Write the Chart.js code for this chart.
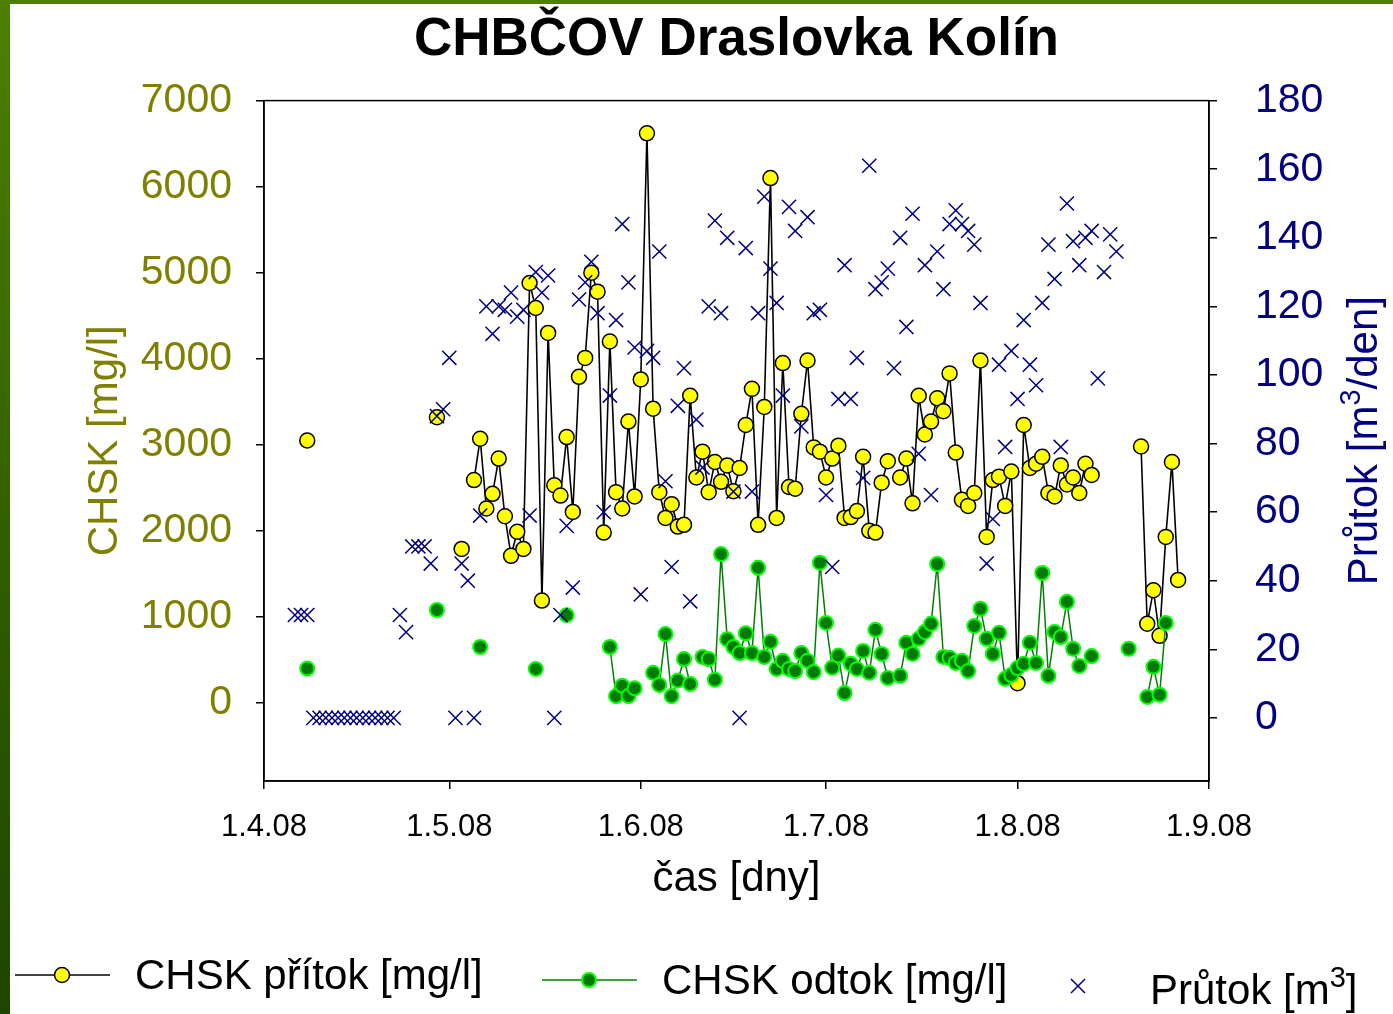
<!DOCTYPE html>
<html>
<head>
<meta charset="utf-8">
<title>CHBČOV Draslovka Kolín</title>
<script src="https://cdn.jsdelivr.net/npm/chart.js@4.4.1/dist/chart.umd.min.js"></script>
<style>
    html, body { margin: 0; padding: 0; background: #fff; }
    #wrap { position: relative; width: 1393px; height: 1014px; overflow: hidden; }
    #graf { position: absolute; left: 0; top: 0; }
    .pruh-levy { position: absolute; left: 0; top: 0; width: 10px; height: 1014px;
        background: linear-gradient(#4f7f00, #2f5a00 60%, #1f4500); }
    .pruh-horni { position: absolute; left: 0; top: 0; width: 1393px; height: 4px; background: #4f7f00; }
</style>
</head>
<body>
<div id="wrap">
    <canvas id="graf" width="1393" height="1014"></canvas>
    <div class="pruh-levy"></div>
    <div class="pruh-horni"></div>
</div>
<script>
// dny od 1.4.08 (0 = 1.4.08)
const osaDny = [0, 30, 61, 91, 122, 153];
const osaPopisky = ['1.4.08', '1.5.08', '1.6.08', '1.7.08', '1.8.08', '1.9.08'];
const chskTicks = [0, 1000, 2000, 3000, 4000, 5000, 6000, 7000];
const prutokTicks = [0, 20, 40, 60, 80, 100, 120, 140, 160, 180];

// CHSK přítok [mg/l]
const pritokDny = [7, 28, 32,
    34, 35, 36, 37, 38, 39, 40, 41, 42, 43, 44, 45, 46, 47, 48, 49, 50, 51, 52, 53,
    54, 55, 56, 57, 58, 59, 60, 61, 62, 63, 64, 65, 66, 67, 68, 69, 70, 71, 72, 73,
    74, 75, 76, 77, 78, 79, 80, 81, 82, 83, 84, 85, 86, 87, 88, 89, 90, 91, 92, 93,
    94, 95, 96, 97, 98, 99, 100, 101,
    103, 104, 105, 106, 107, 108, 109, 110, 111, 112, 113, 114, 115, 116, 117, 118,
    119, 120, 121, 122, 123, 124, 125, 126, 127, 128, 129, 130, 131, 132, 133, 134,
    142, 143, 144, 145, 146, 147, 148];
const pritokHodnoty = [3050, 3320, 1790,
    2590, 3070, 2260, 2430, 2840, 2170, 1710, 1990, 1790, 4880, 4590, 1190, 4300, 2530, 2410, 3090, 2220, 3790, 4010, 5000,
    4780, 1980, 4200, 2450, 2260, 3270, 2400, 3760, 6620, 3420, 2450, 2150, 2310, 2050, 2070, 3570, 2620, 2920, 2450, 2800,
    2570, 2760, 2460, 2730, 3230, 3650, 2070, 3440, 6100, 2150, 3950, 2510, 2490, 3360, 3980, 2970, 2920, 2620, 2840, 2990,
    2150, 2160, 2230, 2860, 2000, 1980, 2560, 2810,
    2620, 2840, 2320, 3570, 3120, 3270, 3540, 3390, 3830, 2910, 2360, 2290, 2440, 3980, 1930, 2590,
    2630, 2290, 2690, 230, 3230, 2730, 2780, 2860, 2440, 2400, 2760, 2540, 2620, 2440, 2780, 2650,
    2980, 920, 1310, 780, 1930, 2800, 1430];

// CHSK odtok [mg/l]
const odtokDny = [7, 28, 35, 44, 49,
    56, 57, 58, 59, 60,
    63, 64, 65, 66, 67, 68, 69,
    71, 72, 73, 74, 75, 76, 77, 78, 79, 80, 81, 82, 83, 84, 85, 86, 87, 88, 89, 90,
    91, 92, 93, 94, 95, 96, 97, 98, 99, 100, 101,
    103, 104, 105, 106, 107, 108, 109, 110, 111, 112, 113, 114, 115, 116, 117, 118,
    119, 120, 121, 122, 123, 124, 125, 126, 127, 128, 129, 130, 131, 132, 134,
    140, 143, 144, 145, 146];
const odtokHodnoty = [400, 1080, 650, 395, 1020,
    650, 80, 200, 80, 170,
    350, 210, 800, 80, 260, 510, 220,
    535, 510, 270, 1730, 740, 650, 580, 810, 580, 1570, 535, 710, 395, 490, 395, 370, 580, 490, 360, 1630,
    930, 410, 550, 115, 455, 395, 605, 350, 850, 570, 290,
    315, 700, 570, 745, 825, 920, 1615, 535, 525, 465, 490, 370, 895, 1095, 745, 570,
    815, 280, 325, 405, 455, 700, 465, 1510, 315, 825, 765, 1175, 630, 430, 545,
    630, 70, 420, 95, 930];

// Průtok [m3/den]
const prutokDny = [5, 6, 7, 8, 9, 10, 11, 12, 13, 14, 15, 16, 17, 18, 19, 20, 21,
    22, 23, 24, 25, 26, 27, 28, 29, 30, 31, 32, 33, 34, 35, 36, 37, 38, 39, 40, 41,
    42, 43, 44, 45, 46, 47, 48, 49, 50, 51, 52, 53, 54, 55, 56, 57, 58, 59, 60, 61,
    62, 63, 64, 65, 66, 67, 68, 69, 70, 71, 72, 73, 74, 75, 76, 77, 78, 79, 80, 81,
    82, 83, 84, 85, 86, 87, 88, 89, 90, 91, 92, 93, 94, 95, 96, 97, 98, 99, 100, 101,
    102, 103, 104, 105, 106, 107, 108, 109, 110, 111, 112, 113, 114, 115, 116, 117, 118, 119, 120, 121,
    122, 123, 124, 125, 126, 127, 128, 129, 130, 131, 132, 133, 134, 135, 136, 137, 138];
const prutokHodnoty = [30, 30, 30, 0, 0, 0, 0, 0, 0, 0, 0, 0, 0, 0, 0, 0, 0,
    30, 25, 50, 50, 50, 45, 88, 90, 105, 0, 45, 40, 0, 59, 120, 112, 120, 119, 124, 117,
    119, 59, 130, 124, 129, 0, 30, 56, 38, 122, 127, 133, 118, 60, 94, 116, 144, 127, 108, 36,
    107, 105, 136, 69, 44, 91, 102, 34, 87, 73, 120, 145, 118, 140, 66, 0, 137, 66, 118, 152,
    131, 121, 94, 149, 142, 85, 146, 118, 119, 65, 44, 93, 132, 93, 105, 70, 161, 125, 127, 131,
    102, 140, 114, 147, 77, 132, 65, 136, 125, 144, 148, 144, 142, 138, 121, 45, 58, 103, 79, 107,
    93, 116, 103, 97, 121, 138, 128, 79, 150, 139, 132, 140, 142, 99, 130, 141, 136];

// chybějící dny přeruší čáru
function naBody(dny, hodnoty) {
    const body = [];
    dny.forEach((d, i) => {
        if (i > 0 && d - dny[i - 1] > 1) body.push({ x: d - 0.5, y: null });
        body.push({ x: d, y: hodnoty[i] });
    });
    return body;
}

const pismo = 'Arial, "Liberation Sans", sans-serif';

// text s horním indexem "3", kreslený zleva od x
function textM3(ctx, pred, za, x, y, vel) {
    ctx.font = vel + 'px ' + pismo;
    ctx.fillText(pred, x, y);
    let w = ctx.measureText(pred).width;
    ctx.font = Math.round(vel * 0.68) + 'px ' + pismo;
    ctx.fillText('3', x + w, y - vel * 0.3);
    w += ctx.measureText('3').width;
    ctx.font = vel + 'px ' + pismo;
    ctx.fillText(za, x + w, y);
    return w + ctx.measureText(za).width;
}

const ramecek = {
    id: 'ramecek',
    afterDatasetsDraw(chart) {
        const { ctx, chartArea: a } = chart;
        ctx.save();
        ctx.strokeStyle = '#000';
        ctx.lineWidth = 1.5;
        ctx.strokeRect(a.left, a.top, a.right - a.left, a.bottom - a.top);
        ctx.restore();
    }
};

// popisek pravé osy (čte se zdola nahoru)
const pravyPopisek = {
    id: 'pravyPopisek',
    afterDraw(chart) {
        const ctx = chart.ctx;
        const a = chart.chartArea;
        ctx.save();
        ctx.translate(1365, (a.top + a.bottom) / 2);
        ctx.rotate(-Math.PI / 2);
        ctx.fillStyle = '#000080';
        ctx.textBaseline = 'middle';
        ctx.font = '42px ' + pismo;
        const sirka = ctx.measureText('Průtok [m/den]').width + ctx.measureText('3').width * 0.68;
        textM3(ctx, 'Průtok [m', '/den]', -sirka / 2, 0, 42);
        ctx.restore();
    }
};

// legenda dole pod grafem
const legenda = {
    id: 'legenda',
    afterDraw(chart) {
        const ctx = chart.ctx;
        ctx.save();
        ctx.font = '42px ' + pismo;
        ctx.textBaseline = 'middle';
        ctx.fillStyle = '#000';

        ctx.strokeStyle = '#000';
        ctx.lineWidth = 1.5;
        ctx.beginPath(); ctx.moveTo(15, 975); ctx.lineTo(110, 975); ctx.stroke();
        ctx.beginPath(); ctx.arc(62, 975, 7.5, 0, Math.PI * 2);
        ctx.fillStyle = '#ffff00'; ctx.fill(); ctx.stroke();
        ctx.fillStyle = '#000';
        ctx.fillText('CHSK přítok [mg/l]', 135, 977);

        ctx.strokeStyle = '#008000';
        ctx.beginPath(); ctx.moveTo(542, 980); ctx.lineTo(637, 980); ctx.stroke();
        ctx.beginPath(); ctx.arc(589, 980, 7, 0, Math.PI * 2);
        ctx.fillStyle = '#007a00'; ctx.fill();
        ctx.strokeStyle = '#00ff00'; ctx.lineWidth = 2; ctx.stroke();
        ctx.fillStyle = '#000';
        ctx.fillText('CHSK odtok [mg/l]', 662, 982);

        ctx.strokeStyle = '#000080'; ctx.lineWidth = 1.5;
        ctx.beginPath();
        ctx.moveTo(1071, 979); ctx.lineTo(1085, 993);
        ctx.moveTo(1085, 979); ctx.lineTo(1071, 993);
        ctx.stroke();
        textM3(ctx, 'Průtok [m', ']', 1150, 992, 42);
        ctx.restore();
    }
};

const ctx = document.getElementById('graf');
new Chart(ctx, {
    type: 'line',
    data: {
        datasets: [
            {
                label: 'CHSK přítok [mg/l]',
                data: naBody(pritokDny, pritokHodnoty),
                yAxisID: 'yChsk',
                borderColor: '#000',
                borderWidth: 1.6,
                pointBackgroundColor: '#ffff00',
                pointBorderColor: '#000',
                pointBorderWidth: 1.5,
                pointRadius: 7.5,
                tension: 0,
                spanGaps: false,
                order: 2
            },
            {
                label: 'CHSK odtok [mg/l]',
                data: naBody(odtokDny, odtokHodnoty),
                yAxisID: 'yChsk',
                borderColor: '#008000',
                borderWidth: 1.5,
                pointBackgroundColor: '#007a00',
                pointBorderColor: '#00ff00',
                pointBorderWidth: 2,
                pointRadius: 7,
                tension: 0,
                spanGaps: false,
                order: 1
            },
            {
                label: 'Průtok [m3/den]',
                data: naBody(prutokDny, prutokHodnoty),
                yAxisID: 'yPrutok',
                showLine: false,
                pointStyle: 'crossRot',
                pointRadius: 10,
                pointBorderColor: '#000080',
                pointBorderWidth: 1.5,
                order: 0
            }
        ]
    },
    options: {
        responsive: false,
        animation: false,
        devicePixelRatio: 1,
        layout: { padding: { top: 0, bottom: 109, left: 0, right: 0 } },
        plugins: {
            legend: { display: false },
            tooltip: { enabled: false },
            title: {
                display: true,
                text: 'CHBČOV Draslovka Kolín',
                fullSize: false,
                color: '#000',
                font: { family: pismo, size: 53, weight: 'bold' },
                padding: { top: 9, bottom: 28 }
            }
        },
        scales: {
            x: {
                type: 'linear',
                min: 0,
                max: 153,
                afterBuildTicks: s => { s.ticks = osaDny.map(v => ({ value: v })); },
                afterFit: s => { s.height = 124; },
                ticks: {
                    callback: v => osaPopisky[osaDny.indexOf(v)],
                    color: '#000',
                    font: { family: pismo, size: 31 },
                    padding: 20,
                    maxRotation: 0,
                    autoSkip: false
                },
                grid: { drawOnChartArea: false, drawTicks: true, tickLength: 8, color: '#000', lineWidth: 1.5 },
                border: { color: '#000', width: 1.5 },
                title: {
                    display: true,
                    text: 'čas [dny]',
                    color: '#000',
                    font: { family: pismo, size: 42 },
                    padding: { top: 0, bottom: 0 }
                }
            },
            yChsk: {
                position: 'left',
                min: -907,
                max: 7000,
                afterBuildTicks: s => { s.ticks = chskTicks.map(v => ({ value: v })); },
                afterFit: s => { s.width = 264; },
                ticks: {
                    callback: v => String(v),
                    color: '#808000',
                    font: { family: pismo, size: 41 },
                    padding: 24
                },
                grid: { drawOnChartArea: false, drawTicks: true, tickLength: 8, color: '#000', lineWidth: 1.5 },
                border: { color: '#000', width: 1.5 },
                title: {
                    display: true,
                    text: 'CHSK [mg/l]',
                    color: '#808000',
                    font: { family: pismo, size: 42 },
                    padding: { top: 80, bottom: 0 }
                }
            },
            yPrutok: {
                position: 'right',
                min: -18.4,
                max: 180,
                afterBuildTicks: s => { s.ticks = prutokTicks.map(v => ({ value: v })); },
                afterFit: s => { s.width = 184; },
                ticks: {
                    callback: v => String(v),
                    color: '#000080',
                    font: { family: pismo, size: 41 },
                    padding: 38
                },
                grid: { drawOnChartArea: false, drawTicks: true, tickLength: 8, color: '#000', lineWidth: 1.5 },
                border: { color: '#000', width: 1.5 },
                title: { display: false }
            }
        }
    },
    plugins: [ramecek, pravyPopisek, legenda]
});
</script>
</body>
</html>
